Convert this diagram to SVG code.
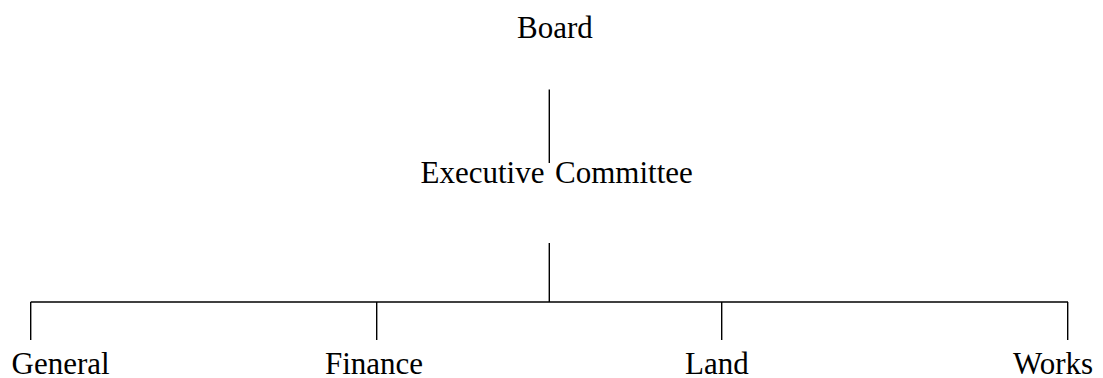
<svg xmlns="http://www.w3.org/2000/svg" width="1103" height="378" viewBox="0 0 1103 378">
<style>
.t{font-family:"Liberation Serif","Times New Roman",serif;font-size:31px;fill:#000}
.c line{stroke:#000;stroke-width:1.4}
</style>
<rect width="1103" height="378" fill="#fff"/>
<g id="connectors" class="c">
<line x1="549.3" y1="89.5" x2="549.3" y2="163"/>
<line x1="549.3" y1="243" x2="549.3" y2="302"/>
<line x1="30.7" y1="302" x2="1068" y2="302"/>
<line x1="30.7" y1="302" x2="30.7" y2="340"/>
<line x1="376.7" y1="302" x2="376.7" y2="340"/>
<line x1="721.7" y1="302" x2="721.7" y2="340"/>
<line x1="1067.7" y1="302" x2="1067.7" y2="340"/>
</g>
<g id="board"><text class="t" x="517" y="37.5">Board</text></g>
<g id="executive"><text class="t" x="420.5" y="183">Executive</text><text class="t" x="555" y="183">Committee</text></g>
<g id="general"><text class="t" x="11.5" y="374">General</text></g>
<g id="finance"><text class="t" x="325" y="374">Finance</text></g>
<g id="land"><text class="t" x="685" y="374">Land</text></g>
<g id="works"><text class="t" x="1013" y="374">Works</text></g>
</svg>
